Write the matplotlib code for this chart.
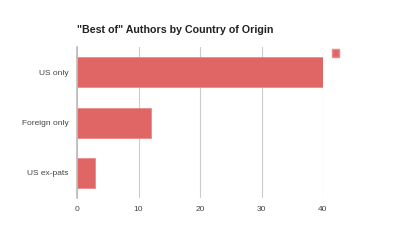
import matplotlib.pyplot as plt
from matplotlib.patches import Patch

plt.rcParams["font.family"] = ["Liberation Sans", "DejaVu Sans"]

# data
categories = ["US only", "Foreign only", "US ex-pats"]
counts = [40, 12, 3]
x_ticks = [0, 10, 20, 30, 40]

bar_color = "#e06666"

fig = plt.figure(figsize=(4, 2.47), dpi=100)
ax = fig.add_axes([0.1925, 0.198, 0.615, 0.611])

ypos = list(range(len(categories)))
ax.barh(ypos, counts, height=0.6, color=bar_color, edgecolor="#e88a8a", linewidth=0.6, zorder=3)

ax.set_yticks(ypos)
ax.set_yticklabels(categories)
ax.set_ylim(len(categories) - 0.5, -0.5)
ax.set_xlim(0, 40)
ax.set_xticks(x_ticks)

ax.grid(axis="x", color="#cccccc", linewidth=0.8, zorder=0)
for s in ["top", "right", "bottom"]:
    ax.spines[s].set_visible(False)
ax.spines["left"].set_color("#bbbbbb")
ax.spines["left"].set_linewidth(1.2)
ax.spines["left"].set_zorder(4)

ax.tick_params(axis="both", length=0, labelsize=6, labelcolor="#444444")
ax.tick_params(axis="y", pad=6)
ax.tick_params(axis="x", pad=6)

fig.text(0.1925, 0.866, '"Best of" Authors by Country of Origin',
         fontsize=7.7, fontweight="bold", color="#222222", va="baseline")

ax.legend(handles=[Patch(facecolor=bar_color, edgecolor="#e88a8a")], labels=[""],
          loc="upper left", bbox_to_anchor=(1.037, 1.0), frameon=False,
          handlelength=0.5, handleheight=0.5, borderaxespad=0, borderpad=0,
          handletextpad=0, fontsize=10)

fig.savefig("out.png", dpi=100)
